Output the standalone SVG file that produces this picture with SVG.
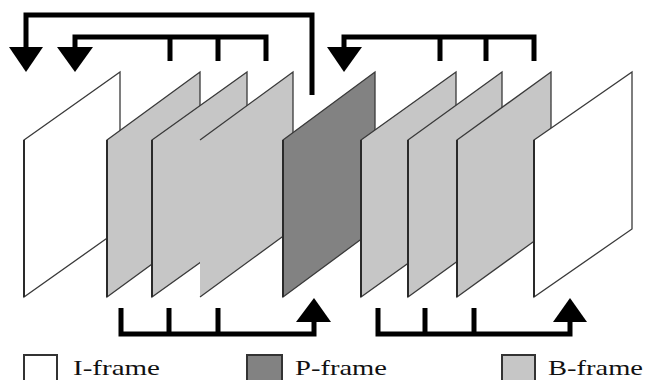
<svg xmlns="http://www.w3.org/2000/svg" width="650" height="380" viewBox="0 0 650 380">
  <style>
    .frame { stroke: #3a3a3a; stroke-width: 1.3; stroke-linejoin: miter; }
    .iframe { fill: #ffffff; }
    .pframe { fill: #828282; }
    .bframe { fill: #c6c6c6; }
    .edge { fill: none; stroke: #2a2a2a; stroke-width: 2; }
    .link { fill: none; stroke: #000000; stroke-width: 5; stroke-linejoin: miter; stroke-linecap: butt; }
    .head { fill: #000000; }
    .key { stroke: #333333; stroke-width: 2; }
    .label { font-family: "Liberation Serif", "Times New Roman", serif; font-size: 21px; fill: #111111; }
  </style>

  <rect width="650" height="380" fill="#ffffff"/>

  <!-- frame sequence: I B B B P B B B I -->
  <g id="frame-i1">
    <polygon class="frame iframe" points="24,140 120,72 120,229 24,297"/>
    <line class="edge" x1="24" y1="140" x2="24" y2="297"/>
  </g>
  <g id="frame-b1">
    <polygon class="frame bframe" points="107,140 200,72 200,229 107,297"/>
    <line class="edge" x1="107" y1="140" x2="107" y2="297"/>
  </g>
  <g id="frame-b2">
    <polygon class="frame bframe" points="152,140 247,72 247,229 152,297"/>
    <line class="edge" x1="152" y1="140" x2="152" y2="297"/>
  </g>
  <g id="frame-b3">
    <polygon class="bframe" points="200,140 293,72 293,229 200,297"/>
    <polyline class="frame" fill="none" points="200,140 293,72 293,229 200,297"/>
  </g>
  <g id="frame-p1">
    <polygon class="frame pframe" points="283,140 375,72 375,229 283,297"/>
    <line class="edge" x1="283" y1="140" x2="283" y2="297"/>
  </g>
  <g id="frame-b4">
    <polygon class="frame bframe" points="361,140 456,72 456,229 361,297"/>
    <line class="edge" x1="361" y1="140" x2="361" y2="297"/>
  </g>
  <g id="frame-b5">
    <polygon class="frame bframe" points="408,140 502,72 502,229 408,297"/>
    <line class="edge" x1="408" y1="140" x2="408" y2="297"/>
  </g>
  <g id="frame-b6">
    <polygon class="frame bframe" points="457,140 551,72 551,229 457,297"/>
    <line class="edge" x1="457" y1="140" x2="457" y2="297"/>
  </g>
  <g id="frame-i2">
    <polygon class="frame iframe" points="534,140 632,72 632,229 534,297"/>
    <line class="edge" x1="534" y1="140" x2="534" y2="297"/>
  </g>

  <!-- prediction references -->
  <g id="connectors">
    <!-- P-frame back to first I-frame -->
    <polyline class="link" points="312,95 312,15 26,15 26,50"/>
    <polygon class="head" points="9,47 43,47 26,72"/>
    <!-- first B group back to I-frame -->
    <polyline class="link" points="170,61 170,37"/>
    <polyline class="link" points="218,61 218,37"/>
    <polyline class="link" points="266,61 266,37 75,37 75,50"/>
    <polygon class="head" points="57,47 93,47 75,72"/>
    <!-- second B group back to P-frame -->
    <polyline class="link" points="440,61 440,37"/>
    <polyline class="link" points="486,61 486,37"/>
    <polyline class="link" points="534,61 534,37 344,37 344,50"/>
    <polygon class="head" points="327,47 362,47 344,72"/>
    <!-- first B group forward to P-frame -->
    <polyline class="link" points="169,308 169,334"/>
    <polyline class="link" points="218,308 218,334"/>
    <polyline class="link" points="121,308 121,334 314,334 314,320"/>
    <polygon class="head" points="296,322 331,322 314,298"/>
    <!-- second B group forward to last I-frame -->
    <polyline class="link" points="425,308 425,334"/>
    <polyline class="link" points="474,308 474,334"/>
    <polyline class="link" points="378,308 378,334 570,334 570,320"/>
    <polygon class="head" points="553,322 587,322 570,298"/>
  </g>

  <!-- legend -->
  <g id="legend-i">
    <rect class="key iframe" x="24" y="355" width="33" height="34"/>
    <text class="label" x="73" y="375" textLength="87" lengthAdjust="spacingAndGlyphs">I-frame</text>
  </g>
  <g id="legend-p">
    <rect class="key pframe" x="247" y="355" width="35" height="34"/>
    <text class="label" x="295" y="375" textLength="92" lengthAdjust="spacingAndGlyphs">P-frame</text>
  </g>
  <g id="legend-b">
    <rect class="key bframe" x="502" y="355" width="33" height="34"/>
    <text class="label" x="548" y="375" textLength="95" lengthAdjust="spacingAndGlyphs">B-frame</text>
  </g>
</svg>
